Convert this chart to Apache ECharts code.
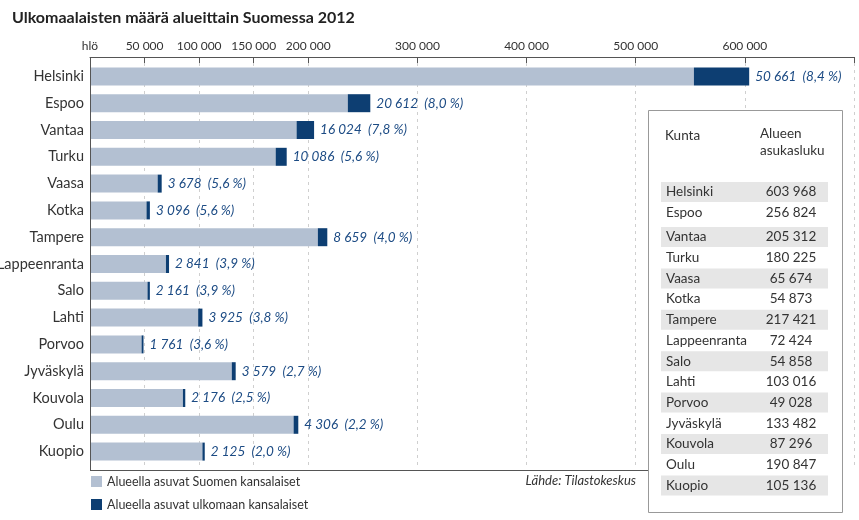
<!DOCTYPE html>
<html>
<head>
<meta charset="utf-8">
<script src="https://cdn.jsdelivr.net/npm/echarts@6/dist/echarts.min.js"></script>
<style>
html,body{margin:0;padding:0;background:#fff;}
#chart{width:859px;height:520px;}
</style>
</head>
<body>
<div id="chart"></div>
<script>
// ---- data ----
var categories = ['Helsinki','Espoo','Vantaa','Turku','Vaasa','Kotka','Tampere','Lappeenranta','Salo','Lahti','Porvoo','Jyväskylä','Kouvola','Oulu','Kuopio'];
var totalPopulation = [603968,256824,205312,180225,65674,54873,217421,72424,54858,103016,49028,133482,87296,190847,105136];
var foreignCitizens = [50661,20612,16024,10086,3678,3096,8659,2841,2161,3925,1761,3579,2176,4306,2125];
var foreignShare = ['8,4','8,0','7,8','5,6','5,6','5,6','4,0','3,9','3,9','3,8','3,6','2,7','2,5','2,2','2,0'];
var tickValues = [0,50000,100000,150000,200000,300000,400000,500000,600000,700000];
var tickLabels = ['hlö','50 000','100 000','150 000','200 000','300 000','400 000','500 000','600 000',''];
var seriesNames = ['Alueella asuvat Suomen kansalaiset','Alueella asuvat ulkomaan kansalaiset'];
var tableHeader = ['Kunta','Alueen\nasukasluku'];
var titleText = 'Ulkomaalaisten määrä alueittain Suomessa 2012';
var sourceText = 'Lähde: Tilastokeskus';

var FONT = 'Lato';
var LIGHT = '#b3c0d2';
var DARK = '#0d3e72';
var LABEL_BLUE = '#1c4b84';

function fmt(n){
  return String(n).replace(/\B(?=(\d{3})+(?!\d))/g, ' ');
}
var finnishCitizens = totalPopulation.map(function(t,i){ return t - foreignCitizens[i]; });

// ---- frame + table graphic ----
var graphics = [];
graphics.push({type:'line', z:5, shape:{x1:90.5,y1:57,x2:90.5,y2:470.5}, style:{stroke:'#555',lineWidth:1}});
graphics.push({type:'line', z:5, shape:{x1:90,y1:470.5,x2:648,y2:470.5}, style:{stroke:'#555',lineWidth:1}});
graphics.push({type:'rect', z:10, shape:{x:648.5,y:110.5,width:194,height:402}, style:{fill:'#fff',stroke:'#999',lineWidth:1}});
graphics.push({type:'text', z:11, left:665, top:129, style:{text:tableHeader[0], font:'13.5px '+FONT, fill:'#333'}});
graphics.push({type:'text', z:11, left:760, top:125, style:{text:tableHeader[1], font:'13.5px '+FONT, fill:'#333', align:'center', lineHeight:17}});
categories.forEach(function(c,i){
  var y = i===0 ? 192 : (i===1 ? 213 : 237 + (i-2)*20.7);
  if(i % 2 === 0){
    graphics.push({type:'rect', z:11, shape:{x:661,y:y-10,width:167,height:20}, style:{fill:'#e6e6e6'}});
  }
  graphics.push({type:'text', z:12, x:666, y:y, style:{text:c, font:'13.5px '+FONT, fill:'#333', verticalAlign:'middle', textVerticalAlign:'middle'}});
  graphics.push({type:'text', z:12, x:791, y:y, style:{text:fmt(totalPopulation[i]), font:'13.5px '+FONT, fill:'#333', align:'center', textAlign:'center', verticalAlign:'middle', textVerticalAlign:'middle'}});
});
graphics.push({type:'text', z:12, x:636, y:481, style:{text:sourceText, font:'italic 13px '+FONT, fill:'#333', align:'right', textAlign:'right', verticalAlign:'middle', textVerticalAlign:'middle'}});

var chart = echarts.init(document.getElementById('chart'));
chart.setOption({
  animation:false,
  textStyle:{fontFamily:FONT},
  title:{text:titleText, left:7, top:5, textStyle:{fontFamily:FONT, fontSize:16, fontWeight:'bold', color:'#222'}},
  legend:{
    orient:'vertical', left:91, top:475, padding:0, itemWidth:11, itemHeight:11, itemGap:10,
    icon:'rect', textStyle:{fontSize:12.5, color:'#333', fontFamily:FONT},
    data:seriesNames
  },
  grid:{left:90, right:5, top:63, bottom:55, containLabel:false, outerBoundsMode:'none'},
  xAxis:[{
    type:'value', position:'top', min:0, max:700000, offset:6,
    axisLine:{show:true, lineStyle:{color:'#555'}},
    axisTick:{show:true, inside:true, length:6, customValues:tickValues, lineStyle:{color:'#555'}},
    axisLabel:{show:true, margin:5, fontSize:12, color:'#333', customValues:tickValues,
      formatter:function(v){ var k = tickValues.indexOf(v); return k>=0 ? tickLabels[k] : ''; }},
    splitLine:{show:true, lineStyle:{color:'#cfcfcf', type:[3,4]}}
  }],
  yAxis:{
    type:'category', inverse:true, data:categories,
    axisLine:{show:false}, axisTick:{show:false},
    axisLabel:{margin:6, fontSize:14.5, color:'#333'}
  },
  series:[
    {name:seriesNames[0], type:'bar', stack:'a', data:finnishCitizens, barWidth:18, itemStyle:{color:LIGHT}},
    {name:seriesNames[1], type:'bar', stack:'a', data:foreignCitizens, barWidth:18, itemStyle:{color:DARK},
      label:{show:true, position:'right', distance:6, fontStyle:'italic', fontSize:13.5, color:LABEL_BLUE, fontFamily:FONT,
        formatter:function(p){ return fmt(foreignCitizens[p.dataIndex]) + '  (' + foreignShare[p.dataIndex] + ' %)'; }}}
  ],
  graphic:graphics
});
</script>
</body>
</html>
